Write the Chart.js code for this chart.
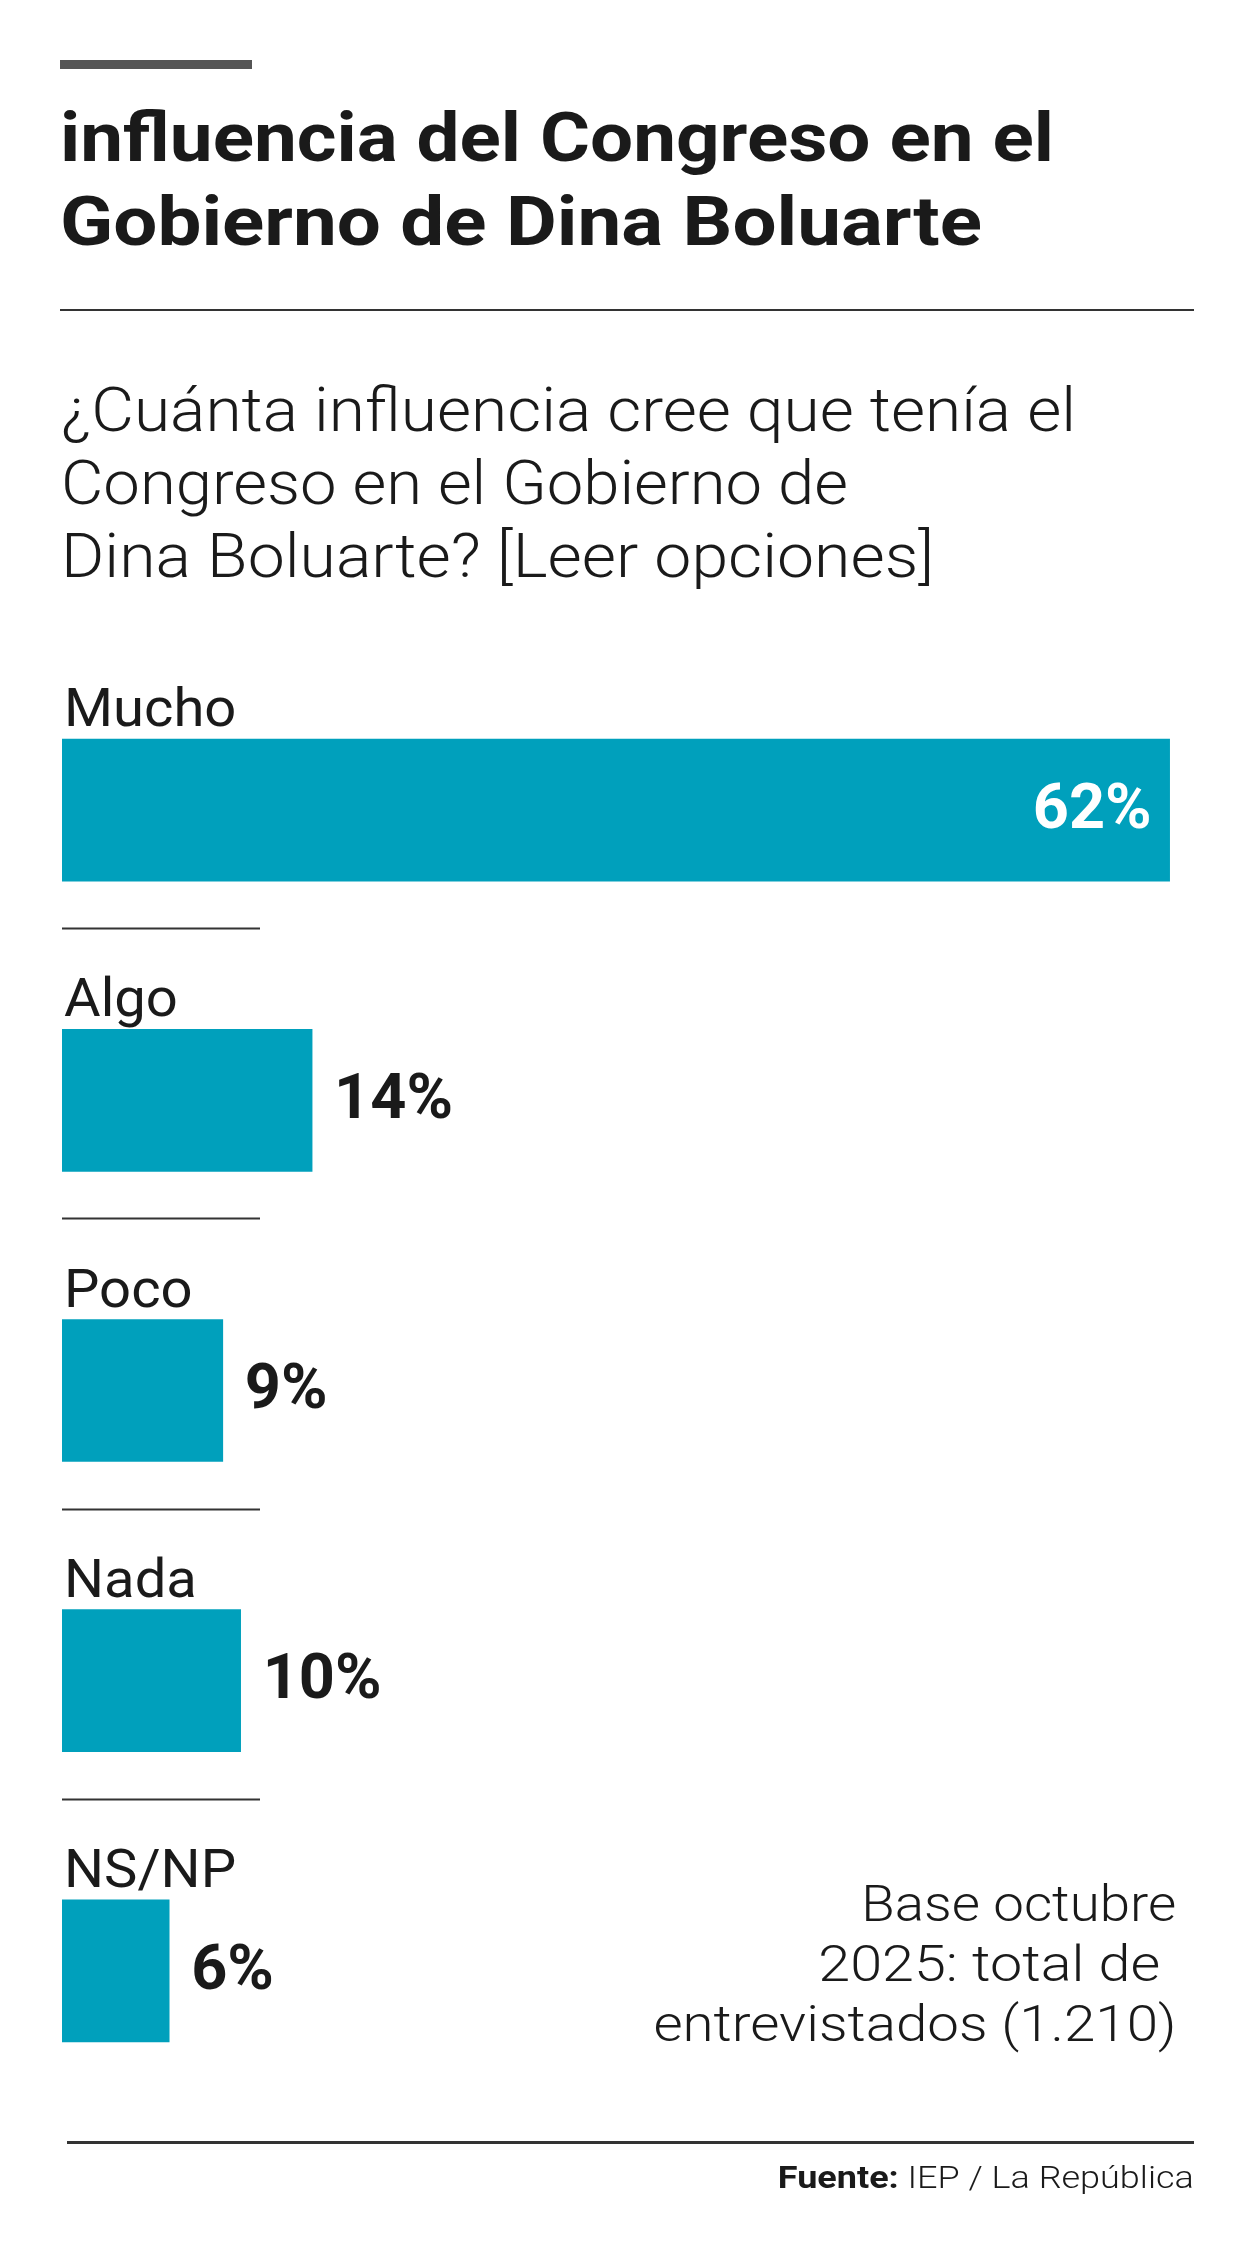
<!DOCTYPE html>
<html lang="es">
<head>
<meta charset="utf-8">
<script src="https://cdn.jsdelivr.net/npm/chart.js@4.4.1/dist/chart.umd.min.js"></script>
<style>
  html, body { margin: 0; padding: 0; background: #fff; }
  body { width: 1250px; height: 2252px; position: relative; overflow: hidden; font-family: Roboto, "Open Sans", sans-serif; color: #1a1a1a; }
  #wrap { position: absolute; left: 0; top: 0; width: 1250px; height: 2252px; z-index: 0; }
  .t { position: absolute; white-space: pre; z-index: 2; }
  .t span { display: inline-block; }
  .title { font-weight: 700; font-size: 69px; line-height: 84px; left: 60px; }
  .sub { font-weight: 300; font-size: 62px; line-height: 73px; left: 61px; }
  .note { font-weight: 300; font-size: 50px; line-height: 60px; right: 74px; text-align: right; }
  .src { font-weight: 300; font-size: 32px; line-height: 40px; right: 56px; text-align: right; }
  .rule { position: absolute; background: #333; z-index: 2; }
</style>
</head>
<body>
<div class="rule" style="left:60px;top:60px;width:192px;height:9px;background:#555;"></div>

<div class="t title" style="top:96px"><span data-w="994">influencia del Congreso en el</span></div>
<div class="t title" style="top:180px"><span data-w="922">Gobierno de Dina Boluarte</span></div>

<div class="rule" style="left:60px;top:309px;width:1134px;height:2px;"></div>

<div class="t sub" style="top:373px"><span data-w="1015">¿Cuánta influencia cree que tenía el</span></div>
<div class="t sub" style="top:446px"><span data-w="787">Congreso en el Gobierno de</span></div>
<div class="t sub" style="top:519px"><span data-w="873">Dina Boluarte? [Leer opciones]</span></div>

<div id="wrap"><canvas id="chart"></canvas></div>

<div class="t note" style="top:1874px"><span data-w="315" data-r="1">Base octubre</span></div>
<div class="t note" style="top:1934px;right:90px"><span data-w="342" data-r="1">2025: total de</span></div>
<div class="t note" style="top:1994px"><span data-w="523" data-r="1">entrevistados (1.210)</span></div>

<div class="rule" style="left:67px;top:2141px;width:1127px;height:3px;"></div>

<div class="t src" style="top:2157px"><span data-w="416" data-r="1"><b style="font-weight:700">Fuente:</b> IEP / La República</span></div>

<script>
// datos
const categories = ['Mucho', 'Algo', 'Poco', 'Nada', 'NS/NP'];
const values = [62, 14, 9, 10, 6];
const valueLabels = ['62%', '14%', '9%', '10%', '6%'];

const barColor = '#00a0bc';
const ink = '#1a1a1a';

// ajusta el ancho de cada línea de texto al del original
function fitText() {
  document.querySelectorAll('[data-w]').forEach(el => {
    const w = el.getBoundingClientRect().width;
    const target = +el.dataset.w;
    el.style.transformOrigin = el.dataset.r ? 'right center' : 'left center';
    el.style.transform = 'scaleX(' + (target / w).toFixed(4) + ')';
  });
}
fitText();

const labelsPlugin = {
  id: 'labels',
  afterDatasetsDraw(chart) {
    const ctx = chart.ctx;
    const bars = chart.getDatasetMeta(0).data;
    ctx.save();
    bars.forEach((bar, i) => {
      const top = bar.y - bar.height / 2;
      const bottom = bar.y + bar.height / 2;

      // categoría sobre la barra (un poco más ancha, como en el original)
      ctx.save();
      ctx.font = '400 53px Roboto, "Open Sans", sans-serif';
      ctx.fillStyle = ink;
      ctx.textAlign = 'left';
      ctx.textBaseline = 'alphabetic';
      ctx.translate(64, top - 13);
      ctx.scale(1.06, 1);
      ctx.fillText(categories[i], 0, 0);
      ctx.restore();

      // valor
      ctx.font = '700 63px Roboto, "Open Sans", sans-serif';
      ctx.textBaseline = 'middle';
      const w = bar.x - bar.base;
      if (w > 400) {
        ctx.fillStyle = '#fff';
        ctx.textAlign = 'right';
        ctx.fillText(valueLabels[i], bar.x - 18, bar.y + 2);
      } else {
        ctx.fillStyle = ink;
        ctx.textAlign = 'left';
        ctx.fillText(valueLabels[i], bar.x + 22, bar.y + 2);
      }

      // separador corto entre categorías
      if (i < bars.length - 1) {
        const y = Math.round(bottom + 47) + 0.5;
        ctx.strokeStyle = '#333';
        ctx.lineWidth = 2;
        ctx.beginPath();
        ctx.moveTo(62, y);
        ctx.lineTo(260, y);
        ctx.stroke();
      }
    });
    ctx.restore();
  }
};

new Chart(document.getElementById('chart'), {
  type: 'bar',
  data: {
    labels: categories,
    datasets: [{
      data: values,
      backgroundColor: barColor,
      borderWidth: 0,
      barThickness: 142
    }]
  },
  options: {
    indexAxis: 'y',
    responsive: true,
    maintainAspectRatio: false,
    animation: false,
    layout: { padding: { left: 62, right: 50, top: 665, bottom: 136 } },
    plugins: { legend: { display: false }, tooltip: { enabled: false } },
    scales: {
      x: { display: false, min: 0, max: 63.7 },
      y: { display: false }
    }
  },
  plugins: [labelsPlugin]
});
</script>
</body>
</html>
